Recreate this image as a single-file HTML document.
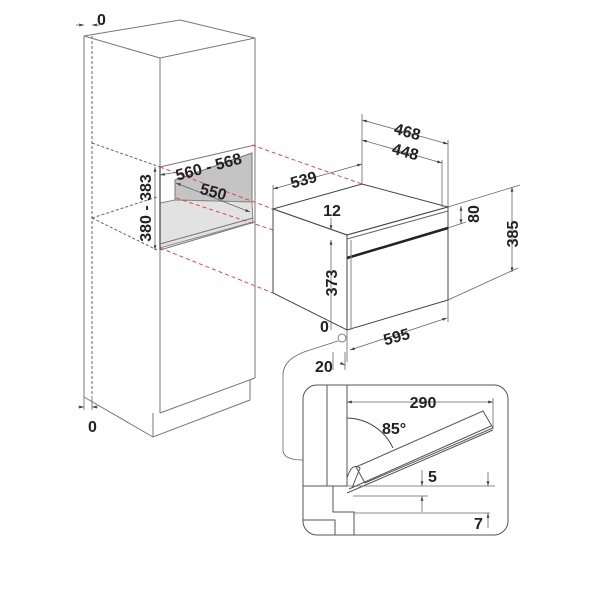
<!DOCTYPE html>
<html><head><meta charset="utf-8"><style>
html,body{margin:0;padding:0;background:#fff}
svg{display:block}
text{font-family:"Liberation Sans",sans-serif;font-weight:bold;font-size:16px;fill:#222}
</style></head><body>
<svg width="600" height="600" viewBox="0 0 600 600" xmlns="http://www.w3.org/2000/svg">
<defs>
<marker id="a" viewBox="0 0 10 10" refX="10" refY="5" markerWidth="6" markerHeight="6" orient="auto-start-reverse"><path d="M0,2 L10,5 L0,8 z" fill="#444"/></marker>
</defs>
<g fill="none" stroke="#777" stroke-width="1">
<polygon points="84,36 180,20 255,38 160,58" fill="#fff"/>
<line x1="84" y1="36" x2="84" y2="397"/>
<line x1="160" y1="58" x2="160" y2="413"/>
<line x1="255" y1="38" x2="255" y2="378"/>
<line x1="160" y1="167" x2="255" y2="145"/>
<line x1="160" y1="250" x2="255" y2="222"/>
<line x1="160" y1="413" x2="255" y2="378"/>
<polyline points="84,397 153,437 250,400 250,380"/>
<line x1="153" y1="413" x2="153" y2="437"/>
</g>
<polygon points="175,180 252,153 252,202 175,200" fill="#c4c4c4" stroke="#777"/>
<polygon points="160,203 175,200 252,202 253,222 160,248" fill="#e2e2e2" stroke="#888"/>
<line x1="160" y1="167" x2="160" y2="250" stroke="#444" stroke-width="1.2"/>
<line x1="160" y1="244" x2="253" y2="218" stroke="#777"/>
<g fill="none" stroke="#666" stroke-dasharray="3,2">
<line x1="92" y1="36" x2="92" y2="397"/>
<line x1="92" y1="143" x2="160" y2="167"/>
<line x1="92" y1="218" x2="157" y2="197"/>
<line x1="92" y1="218" x2="157" y2="250"/>
</g>
<g stroke="#e33" stroke-dasharray="4,3" stroke-width="0.9">
<line x1="252" y1="145" x2="362" y2="184"/>
<line x1="160" y1="167" x2="273" y2="209"/>
<line x1="176" y1="198" x2="273" y2="230"/>
<line x1="160" y1="248" x2="273" y2="293"/>
</g>
<g fill="#fff" stroke="#444" stroke-width="1">
<polygon points="273,209 362,184 448,207 347,235"/>
<polygon points="273,209 347,235 347,330 273,293"/>
<polygon points="347,235 448,207 448,300 347,330"/>
</g>
<line x1="347" y1="239" x2="448" y2="211" stroke="#666"/>
<line x1="347" y1="258" x2="448" y2="228" stroke="#222" stroke-width="2.5"/>
<line x1="351" y1="240" x2="351" y2="330" stroke="#888"/>
<g stroke="#666" stroke-width="0.8" fill="none">
<line x1="362" y1="184" x2="362" y2="114"/>
<line x1="448" y1="207" x2="448" y2="140"/>
<line x1="442" y1="207" x2="442" y2="160"/>
<line x1="362" y1="120" x2="448" y2="144" marker-start="url(#a)" marker-end="url(#a)"/>
<line x1="362" y1="140" x2="442" y2="163" marker-start="url(#a)" marker-end="url(#a)"/>
<line x1="273" y1="209" x2="273" y2="185"/>
<line x1="273" y1="189" x2="362" y2="164" marker-start="url(#a)" marker-end="url(#a)"/>
<line x1="331" y1="218" x2="331" y2="230" marker-end="url(#a)"/>
<line x1="331" y1="330" x2="331" y2="240" marker-end="url(#a)"/>
<line x1="448" y1="207" x2="520" y2="185"/>
<line x1="448" y1="228" x2="466" y2="222"/>
<line x1="448" y1="300" x2="518" y2="268"/>
<line x1="461" y1="206" x2="461" y2="224" marker-start="url(#a)" marker-end="url(#a)"/>
<line x1="512" y1="187" x2="512" y2="272" marker-start="url(#a)" marker-end="url(#a)"/>
<line x1="347" y1="330" x2="347" y2="362"/>
<line x1="448" y1="300" x2="448" y2="322"/>
<line x1="350" y1="350" x2="447" y2="318" marker-start="url(#a)" marker-end="url(#a)"/>
<line x1="155" y1="167" x2="155" y2="250" marker-start="url(#a)" marker-end="url(#a)"/>
<line x1="160" y1="175" x2="178" y2="172" marker-start="url(#a)"/>
<line x1="176" y1="183" x2="250" y2="212" marker-start="url(#a)" marker-end="url(#a)"/>
<line x1="76" y1="25" x2="84" y2="25" marker-end="url(#a)"/>
<line x1="100" y1="25" x2="92" y2="25" marker-end="url(#a)"/>
<line x1="84" y1="397" x2="84" y2="410"/>
<line x1="92" y1="397" x2="92" y2="410"/>
<line x1="78" y1="407" x2="84" y2="407" marker-end="url(#a)"/>
<line x1="98" y1="407" x2="92" y2="407" marker-end="url(#a)"/>
<circle cx="342" cy="338" r="4" fill="#fff"/>
<path d="M338,341 L310,350 Q283,358 283,375 L283,450 Q283,460 303,460"/>
<line x1="333" y1="352" x2="333" y2="370"/>
<line x1="345" y1="352" x2="345" y2="370"/>
<line x1="340" y1="363" x2="345" y2="365" marker-end="url(#a)"/>
</g>
<g fill="none" stroke="#555" stroke-width="1">
<rect x="303" y="385" width="205" height="150" rx="14"/>
<polyline points="327,385 327,486"/>
<polyline points="347,385 347,486"/>
<line x1="303" y1="486" x2="347" y2="486"/>
<polyline points="333,486 333,512 354,512 354,535"/>
<polyline points="303,520 335,520 335,535"/>
<polygon points="356,467 483,411 493,428 365,483" fill="#fff"/>
<line x1="347" y1="493" x2="493" y2="430"/>
<line x1="349" y1="489" x2="491" y2="426"/>
<path d="M347,478 Q352,462 360,468 Q356,478 352,488"/>
<path d="M347,418 A52,52 0 0 1 393,448" stroke="#444"/>
</g>
<g stroke="#666" stroke-width="0.8" fill="none">
<line x1="347" y1="402" x2="493" y2="402" marker-start="url(#a)" marker-end="url(#a)"/>
<line x1="493" y1="398" x2="493" y2="428"/>
<line x1="347" y1="486" x2="495" y2="486"/>
<line x1="353" y1="496" x2="428" y2="496"/>
<line x1="422" y1="470" x2="422" y2="486" marker-end="url(#a)"/>
<line x1="422" y1="512" x2="422" y2="496" marker-end="url(#a)"/>
<line x1="488" y1="472" x2="488" y2="486" marker-end="url(#a)"/>
<line x1="354" y1="513" x2="490" y2="513"/>
<line x1="488" y1="528" x2="488" y2="513" marker-end="url(#a)"/>
</g>
<text x="97" y="25">0</text>
<text x="88" y="432">0</text>
<text transform="translate(210,172) rotate(-15)" text-anchor="middle">560 - 568</text>
<text transform="translate(212,197) rotate(15)" text-anchor="middle">550</text>
<text transform="translate(151,208) rotate(-90)" text-anchor="middle">380 - 383</text>
<text transform="translate(305,185) rotate(-15)" text-anchor="middle">539</text>
<text transform="translate(406,137) rotate(15)" text-anchor="middle">468</text>
<text transform="translate(404,157) rotate(15)" text-anchor="middle">448</text>
<text x="332" y="216" text-anchor="middle">12</text>
<text transform="translate(337,283) rotate(-90)" text-anchor="middle">373</text>
<text transform="translate(479,214) rotate(-90)" text-anchor="middle">80</text>
<text transform="translate(518,234) rotate(-90)" text-anchor="middle">385</text>
<text x="320" y="332">0</text>
<text transform="translate(398,342) rotate(-15)" text-anchor="middle">595</text>
<text x="315" y="372">20</text>
<text x="423" y="408" text-anchor="middle">290</text>
<text x="382" y="434">85°</text>
<text x="428" y="482">5</text>
<text x="474" y="529">7</text>
</svg>
</body></html>
